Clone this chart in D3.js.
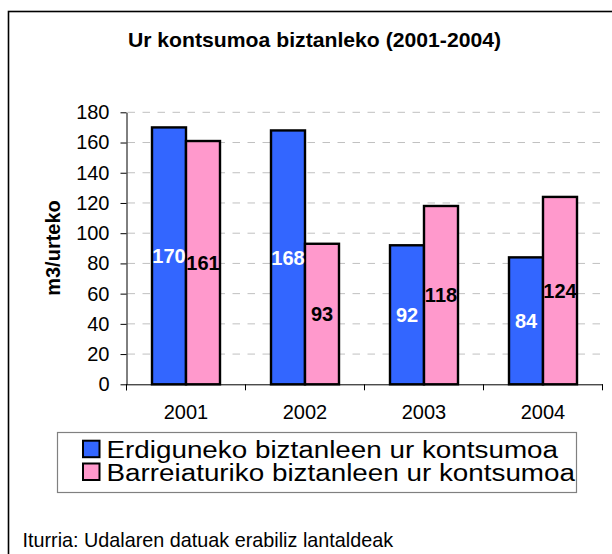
<!DOCTYPE html>
<html>
<head>
<meta charset="utf-8">
<script src="https://cdn.jsdelivr.net/npm/d3@7"></script>
<style>
  html, body { margin: 0; padding: 0; background: #fff; }
  svg { display: block; }
  text { font-family: "Liberation Sans", Arial, sans-serif; }
</style>
</head>
<body>
<script>
// ---- data ----
const categories = ["2001", "2002", "2003", "2004"];
const seriesNames = ["Erdiguneko biztanleen ur kontsumoa", "Barreiaturiko biztanleen ur kontsumoa"];
const erdigunekoValues = [170, 168, 92, 84];
const barreiaturikoValues = [161, 93, 118, 124];
const yTicks = [0, 20, 40, 60, 80, 100, 120, 140, 160, 180];
const titleText = "Ur kontsumoa biztanleko (2001-2004)";
const yAxisTitle = "m3/urteko";
const sourceText = "Iturria: Udalaren datuak erabiliz lantaldeak";
const seriesColors = ["#3366FF", "#FF99CC"];
const labelColors = ["#FFFFFF", "#000000"];

// ---- layout ----
const W = 612, H = 554;
const plot = { left: 126.5, right: 602.5, top: 112.3, bottom: 384.3 };

const svg = d3.select("body").append("svg").attr("width", W).attr("height", H);

// outer chart border (cropped at right/bottom)
svg.append("rect")
  .attr("x", 8.5).attr("y", 11.5).attr("width", 700).attr("height", 700)
  .attr("fill", "#fff").attr("stroke", "#000").attr("stroke-width", 1.6);

// title
svg.append("text")
  .attr("transform", `translate(314.5,47.3) scale(1.06,1)`)
  .attr("text-anchor", "middle")
  .attr("font-size", 20).attr("font-weight", "bold")
  .text(titleText);

// scales
const y = d3.scaleLinear().domain([0, 180]).range([plot.bottom, plot.top]);
const x = d3.scaleBand().domain(categories).range([plot.left, plot.right]).paddingInner(0).paddingOuter(0);
const xs = d3.scaleBand().domain([0, 1]).range([0, x.bandwidth()]).paddingInner(0).paddingOuter(0.75);

// gridlines
svg.append("g").selectAll("line")
  .data(yTicks.filter(d => d > 0))
  .join("line")
  .attr("x1", plot.left + 1).attr("x2", plot.right)
  .attr("y1", d => y(d)).attr("y2", d => y(d))
  .attr("stroke", "#C0C0C0").attr("stroke-width", 1)
  .attr("stroke-dasharray", "7.5,7.5");

// bars
const series = [erdigunekoValues, barreiaturikoValues];
series.forEach((vals, si) => {
  const g = svg.append("g");
  g.selectAll("rect")
    .data(vals)
    .join("rect")
    .attr("x", (d, i) => x(categories[i]) + xs(si))
    .attr("y", d => y(d))
    .attr("width", xs.bandwidth())
    .attr("height", d => y(0) - y(d))
    .attr("fill", seriesColors[si])
    .attr("stroke", "#000").attr("stroke-width", 2.4);
});

// y axis
const yAxis = svg.append("g")
  .attr("transform", `translate(${plot.left},0)`)
  .call(d3.axisLeft(y).tickValues(yTicks).tickSize(6).tickSizeOuter(0).tickPadding(11));
yAxis.select(".domain").attr("stroke", "#000");
yAxis.selectAll(".tick line").attr("stroke", "#000");
yAxis.selectAll(".tick text")
  .attr("font-size", 20).attr("fill", "#000")
  .attr("font-family", "Liberation Sans, Arial, sans-serif");

// extend y-axis line slightly below zero
svg.append("line")
  .attr("x1", plot.left).attr("x2", plot.left)
  .attr("y1", plot.bottom).attr("y2", plot.bottom + 6)
  .attr("stroke", "#000");

// x axis (labels at band centers)
const xAxis = svg.append("g")
  .attr("transform", `translate(0,${plot.bottom})`)
  .call(d3.axisBottom(x).tickSize(0).tickSizeOuter(0).tickPadding(20.5));
xAxis.select(".domain").attr("stroke", "#000");
xAxis.selectAll(".tick text")
  .attr("font-size", 20).attr("fill", "#000")
  .attr("font-family", "Liberation Sans, Arial, sans-serif");

// x tick marks at category boundaries
const boundaries = categories.map(c => x(c)).concat([x.range()[1]]);
svg.append("g").selectAll("line")
  .data(boundaries)
  .join("line")
  .attr("x1", d => d).attr("x2", d => d)
  .attr("y1", plot.bottom).attr("y2", plot.bottom + 6)
  .attr("stroke", "#000");

// bar value labels
series.forEach((vals, si) => {
  svg.append("g").selectAll("text")
    .data(vals)
    .join("text")
    .attr("x", (d, i) => x(categories[i]) + xs(si) + xs.bandwidth() / 2)
    .attr("y", d => (y(d) + y(0)) / 2 + 7.3)
    .attr("text-anchor", "middle")
    .attr("font-size", 20).attr("font-weight", "bold")
    .attr("fill", labelColors[si])
    .text(d => d);
});

// y axis title
svg.append("text")
  .attr("transform", `translate(59.5,248) rotate(-90)`)
  .attr("text-anchor", "middle")
  .attr("font-size", 20).attr("font-weight", "bold")
  .text(yAxisTitle);

// legend
const legend = svg.append("g");
legend.append("rect")
  .attr("x", 57.5).attr("y", 432.5).attr("width", 519).attr("height", 60)
  .attr("fill", "#fff").attr("stroke", "#808080").attr("stroke-width", 1.2);
seriesNames.forEach((name, i) => {
  const rowY = 440.7 + i * 22.8;
  legend.append("rect")
    .attr("x", 83).attr("y", rowY).attr("width", 16.5).attr("height", 16.5)
    .attr("fill", seriesColors[i]).attr("stroke", "#000").attr("stroke-width", 2);
  legend.append("text")
    .attr("transform", `translate(106.5,${rowY + 17}) scale(1.21,1)`)
    .attr("font-size", 23)
    .text(name);
});

// source note
svg.append("text")
  .attr("transform", `translate(22.5,546.7)`)
  .attr("font-size", 19.8)
  .text(sourceText);
</script>
</body>
</html>
